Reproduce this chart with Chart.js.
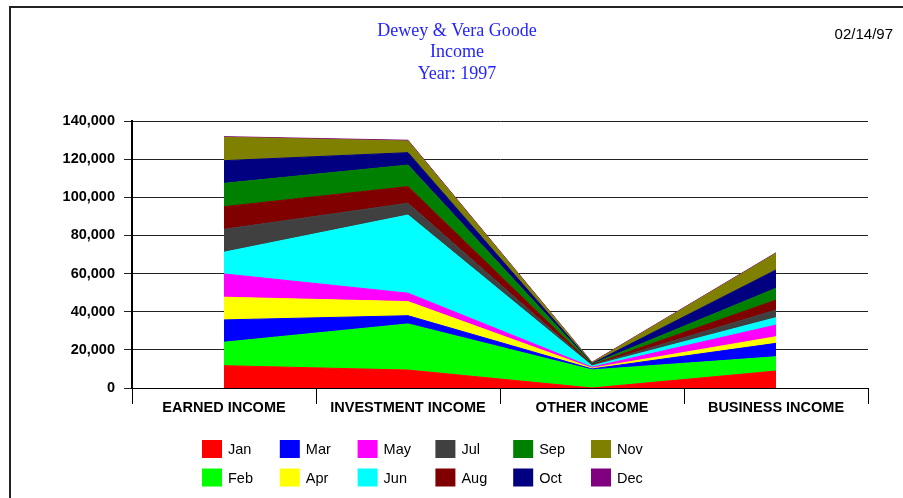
<!DOCTYPE html>
<html>
<head>
<meta charset="utf-8">
<script src="https://cdn.jsdelivr.net/npm/chart.js@4"></script>
<style>
  html, body { margin: 0; padding: 0; background: #fff; }
  #wrap { position: relative; width: 903px; height: 498px; }
  canvas { display: block; }
</style>
</head>
<body>
<div id="wrap"><canvas id="c" width="903" height="498"></canvas></div>
<script>
// ---- data ----
const categories = ['EARNED INCOME', 'INVESTMENT INCOME', 'OTHER INCOME', 'BUSINESS INCOME'];
const months = ['Jan', 'Feb', 'Mar', 'Apr', 'May', 'Jun', 'Jul', 'Aug', 'Sep', 'Oct', 'Nov', 'Dec'];
const jan = [11700, 9400, 0, 8900];
const feb = [12300, 24200, 9500, 7500];
const mar = [11700, 4300, 500, 7000];
const apr = [11900, 7400, 400, 3500];
const may = [12200, 4400, 500, 6100];
const jun = [11400, 41000, 700, 3900];
const jul = [12000, 6200, 300, 4000];
const aug = [11900, 8700, 300, 5200];
const sep = [12200, 11300, 300, 6200];
const oct = [11900, 6500, 300, 9600];
const nov = [12300, 6100, 500, 8700];
const dec = [300, 400, 200, 300];
const yTicks = [0, 20000, 40000, 60000, 80000, 100000, 120000, 140000];
const titleLines = ['Dewey & Vera Goode', 'Income', 'Year: 1997'];
const dateText = '02/14/97';

const seriesValues = [jan, feb, mar, apr, may, jun, jul, aug, sep, oct, nov, dec];
const colors = ['#ff0000', '#00ff00', '#0000ff', '#ffff00', '#ff00ff', '#00ffff',
                '#404040', '#800000', '#008000', '#000080', '#808000', '#800080'];

const datasets = months.map((m, i) => ({
  label: m,
  data: seriesValues[i],
  backgroundColor: colors[i],
  borderColor: colors[i],
  borderWidth: 1,
  pointRadius: 0,
  pointHoverRadius: 0,
  tension: 0,
  fill: i === 0 ? 'origin' : '-1'
}));

const SANS = '"Liberation Sans", Arial, sans-serif';

const decor = {
  id: 'decor',
  beforeDraw(chart) {
    const ctx = chart.ctx;
    ctx.save();
    ctx.fillStyle = '#fff';
    ctx.fillRect(0, 0, chart.width, chart.height);
    ctx.restore();
  },
  afterDraw(chart) {
    const ctx = chart.ctx;
    ctx.save();
    // frame
    ctx.strokeStyle = '#222';
    ctx.lineWidth = 2;
    ctx.beginPath();
    ctx.moveTo(10, 498);
    ctx.lineTo(10, 7);
    ctx.lineTo(903, 7);
    ctx.stroke();
    // title
    ctx.fillStyle = '#2424ff';
    ctx.font = '18px "Liberation Serif", "Times New Roman", serif';
    ctx.textAlign = 'center';
    ctx.textBaseline = 'middle';
    titleLines.forEach((t, i) => ctx.fillText(t, 457, 31 + i * 21.5));
    // date
    ctx.fillStyle = '#000';
    ctx.font = '15px ' + SANS;
    ctx.textAlign = 'right';
    ctx.fillText(dateText, 893, 35);
    // legend
    ctx.font = '14.5px ' + SANS;
    ctx.textAlign = 'left';
    months.forEach((m, i) => {
      const col = Math.floor(i / 2), row = i % 2;
      const x = 202 + col * 77.8;
      const y = 440 + row * 28.5;
      ctx.fillStyle = colors[i];
      ctx.fillRect(x, y, 20, 18);
      ctx.fillStyle = '#000';
      ctx.fillText(m, x + 26, y + 10);
    });
    ctx.restore();
  }
};

new Chart(document.getElementById('c'), {
  type: 'line',
  data: { labels: categories, datasets },
  options: {
    responsive: false,
    animation: false,
    devicePixelRatio: 1,
    layout: { padding: { top: 121, right: 35, left: 0, bottom: 0 } },
    plugins: {
      legend: { display: false },
      title: { display: false },
      tooltip: { enabled: false }
    },
    scales: {
      x: {
        type: 'category',
        offset: true,
        afterFit(scale) { scale.height = 110; },
        grid: {
          offset: true,
          drawOnChartArea: false,
          drawTicks: true,
          tickLength: 16,
          color: '#000',
          lineWidth: 1
        },
        border: { display: true, color: '#000', width: 1 },
        ticks: {
          color: '#000',
          font: { family: SANS, size: 14.5, weight: 'bold' },
          padding: -5,
          maxRotation: 0,
          autoSkip: false
        }
      },
      y: {
        stacked: true,
        min: 0,
        max: 140000,
        afterFit(scale) { scale.width = 132; },
        afterBuildTicks(scale) { scale.ticks = yTicks.map(v => ({ value: v })); },
        grid: {
          color: '#222',
          lineWidth: 1,
          drawTicks: true,
          tickLength: 8
        },
        border: { display: true, color: '#000', width: 2 },
        ticks: {
          color: '#000',
          padding: 9,
          font: { family: SANS, size: 14.5, weight: 'bold' },
          callback: v => v.toLocaleString('en-US')
        }
      }
    }
  },
  plugins: [decor]
});
</script>
</body>
</html>
